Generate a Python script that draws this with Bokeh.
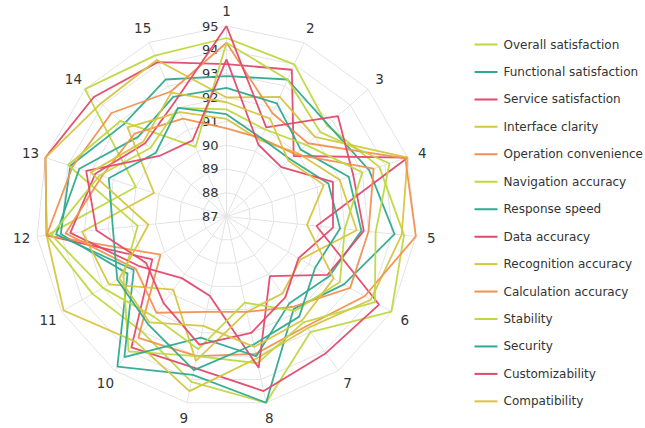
import numpy as np
from bokeh.plotting import figure
from bokeh.models import Range1d
from bokeh.core.properties import value
from bokeh.embed import file_html
from bokeh.resources import INLINE

# ---- data ---------------------------------------------------------------
axis_labels = [str(i) for i in range(1, 16)]
radial_ticks = [87, 88, 89, 90, 91, 92, 93, 94, 95]
r_min, r_max = 87, 95

series_names = [
    "Overall satisfaction", "Functional satisfaction", "Service satisfaction",
    "Interface clarity", "Operation convenience", "Navigation accuracy",
    "Response speed", "Data accuracy", "Recognition accuracy",
    "Calculation accuracy", "Stability", "Security", "Customizability",
    "Compatibility",
]

overall_satisfaction    = [94.5, 94.0, 92.7, 93.75, 94.5, 95.0, 93.0, 95.0, 94.1, 93.0, 93.5, 94.6, 91.0, 95.0, 94.4]
functional_satisfaction = [92.9, 93.3, 92.75, 93.3, 94.1, 92.7, 91.8, 95.0, 93.8, 94.8, 91.8, 94.0, 93.9, 92.8, 93.3]
service_satisfaction    = [93.4, 93.75, 90.8, 95.0, 90.8, 94.4, 94.1, 94.5, 93.5, 93.8, 90.6, 94.6, 95.0, 94.5, 94.1]
interface_clarity       = [92.0, 92.5, 92.0, 95.0, 94.4, 94.0, 92.8, 93.1, 94.5, 93.5, 94.9, 94.6, 95.0, 94.1, 94.2]
operation_convenience   = [94.3, 91.75, 91.6, 94.9, 95.0, 93.7, 92.7, 92.9, 93.0, 93.3, 90.2, 94.6, 93.8, 93.5, 92.75]
navigation_accuracy     = [94.3, 93.3, 92.3, 94.2, 93.3, 94.2, 92.5, 93.3, 93.0, 94.0, 92.0, 90.75, 94.0, 93.0, 90.2]
response_speed          = [92.4, 92.2, 91.2, 92.4, 92.7, 92.0, 91.5, 93.0, 92.2, 94.3, 91.5, 94.2, 93.5, 92.0, 92.5]
data_accuracy           = [95.0, 91.1, 93.3, 92.6, 92.8, 91.9, 90.1, 93.5, 90.4, 90.2, 91.2, 93.6, 92.8, 91.6, 92.3]
recognition_accuracy    = [91.1, 90.5, 91.0, 92.0, 92.5, 90.6, 91.0, 91.1, 93.2, 90.8, 92.7, 93.1, 90.2, 92.6, 91.8]
calculation_accuracy    = [90.7, 90.6, 90.9, 93.5, 93.0, 93.0, 91.7, 91.1, 91.1, 92.0, 91.4, 93.8, 92.5, 92.2, 91.5]
stability               = [91.5, 91.0, 91.5, 93.0, 92.0, 92.5, 91.9, 90.7, 92.7, 92.2, 93.0, 94.4, 92.6, 91.3, 92.0]
security                = [91.3, 90.6, 90.6, 91.5, 91.8, 91.3, 92.2, 92.5, 93.6, 92.6, 92.3, 91.8, 92.2, 91.0, 92.0]
customizability         = [93.6, 90.3, 90.1, 91.7, 91.5, 90.5, 91.2, 92.0, 92.5, 91.5, 90.9, 92.5, 93.2, 90.8, 90.5]
compatibility           = [91.8, 91.5, 90.5, 91.3, 90.4, 92.2, 92.4, 92.6, 91.7, 92.5, 92.2, 90.3, 93.0, 91.7, 92.7]

series_values = [
    overall_satisfaction, functional_satisfaction, service_satisfaction,
    interface_clarity, operation_convenience, navigation_accuracy,
    response_speed, data_accuracy, recognition_accuracy, calculation_accuracy,
    stability, security, customizability, compatibility,
]

palette = ["#bfd83f", "#2faa8f", "#e4486a", "#d6c53e", "#f2904e"]
series_colors = [palette[i % 5] for i in range(len(series_names))]

# ---- layout -------------------------------------------------------------
W, H = 645, 428
CX, CY = 226, 216          # pixel centre of the radar
PX = 23.8                  # pixels per radial unit
FONT = "DejaVu Sans"
TXT = "#333333"
GRID = "#e3e3e3"

p = figure(width=W, height=H, output_backend="svg", toolbar_location=None,
           x_axis_type=None, y_axis_type=None, min_border=0,
           x_range=Range1d(-CX / PX, (W - CX) / PX),
           y_range=Range1d(-(H - CY) / PX, CY / PX))
p.outline_line_color = None
p.grid.visible = False
p.background_fill_color = "white"

n = len(axis_labels)
theta = np.arange(n) * 2 * np.pi / n   # clockwise from the top


def polar(r, th):
    return r * np.sin(th), r * np.cos(th)


# polygon rings
ring_xs, ring_ys = [], []
for t in radial_ticks[1:]:
    x, y = polar(np.full(n + 1, t - r_min), np.append(theta, theta[0]))
    ring_xs.append(list(x))
    ring_ys.append(list(y))
p.multi_line(ring_xs, ring_ys, line_color=GRID, line_width=1)

# spokes
sx, sy = [], []
for th in theta:
    x, y = polar(np.array([0, r_max - r_min]), np.array([th, th]))
    sx.append(list(x))
    sy.append(list(y))
p.multi_line(sx, sy, line_color=GRID, line_width=1)

# radial tick labels, along the first spoke
p.text(x=[-8 / PX] * len(radial_ticks), y=[t - r_min for t in radial_ticks],
       text=[str(t) for t in radial_ticks], text_align="right",
       text_baseline="middle", text_font=value(FONT), text_font_size="13px",
       text_color=TXT)

# angular labels
lx, ly = polar(np.full(n, 206 / PX), theta)
p.text(x=list(lx), y=list(ly), text=axis_labels, text_align="center",
       text_baseline="middle", text_font=value(FONT), text_font_size="13.5px",
       text_color=TXT)

# series polygons
for vals, col in zip(series_values, series_colors):
    r = np.array(vals + vals[:1]) - r_min
    x, y = polar(r, np.append(theta, theta[0]))
    p.line(list(x), list(y), line_color=col, line_width=1.8, line_alpha=0.95)

# legend
def to_data(px, py):
    return (px - CX) / PX, (CY - py) / PX

for i, (name, col) in enumerate(zip(series_names, series_colors)):
    py = 44 + i * 27.45
    x0, y0 = to_data(474, py)
    x1, _ = to_data(497, py)
    xt, _ = to_data(503, py)
    p.line([x0, x1], [y0, y0], line_color=col, line_width=2)
    p.text(x=[xt], y=[y0], text=[name], text_baseline="middle",
           text_font=value(FONT), text_font_size="12px", text_color=TXT)

open("out.html", "w").write(file_html(p, INLINE))
